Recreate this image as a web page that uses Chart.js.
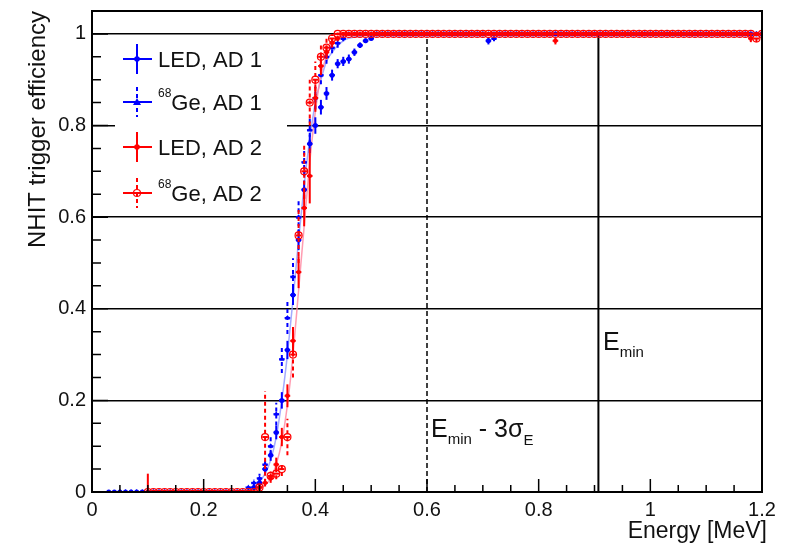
<!DOCTYPE html>
<html>
<head>
<meta charset="utf-8">
<script src="https://cdn.jsdelivr.net/npm/chart.js@4.4.1/dist/chart.umd.min.js"></script>
<style>
  body { margin: 0; background: #fff; }
  canvas { display: block; }
</style>
</head>
<body>
<canvas id="eff" width="785" height="547"></canvas>
<script>
// bin centres [MeV]
const energy = [
  0.03,0.04,0.05,0.06,0.07,0.08,0.09,0.10,0.11,0.12,
  0.13,0.14,0.15,0.16,0.17,0.18,0.19,0.20,0.21,0.22,
  0.23,0.24,0.25,0.26,0.27,0.28,0.29,0.30,0.31,0.32,
  0.33,0.34,0.35,0.36,0.37,0.38,0.39,0.40,0.41,0.42,
  0.43,0.44,0.45,0.46,0.47,0.48,0.49,0.50,0.51,0.52,
  0.53,0.54,0.55,0.56,0.57,0.58,0.59,0.60,0.61,0.62,
  0.63,0.64,0.65,0.66,0.67,0.68,0.69,0.70,0.71,0.72,
  0.73,0.74,0.75,0.76,0.77,0.78,0.79,0.80,0.81,0.82,
  0.83,0.84,0.85,0.86,0.87,0.88,0.89,0.90,0.91,0.92,
  0.93,0.94,0.95,0.96,0.97,0.98,0.99,1.00,1.01,1.02,
  1.03,1.04,1.05,1.06,1.07,1.08,1.09,1.10,1.11,1.12,
  1.13,1.14,1.15,1.16,1.17,1.18,1.19,1.20
];

// LED, AD 1
const ledAd1 = [
  0,0,0,0,0,0,0,0,0,0,
  0,0,0,0,0,0,0,0,0,0,
  0,0,0,0,0,0,0.01,0.02,0.05,0.08,
  0.13,0.20,0.31,0.43,0.55,0.66,0.76,0.80,0.84,0.87,
  0.91,0.935,0.94,0.945,0.96,0.975,0.985,0.99,1,1,
  1,1,1,1,1,1,1,1,1,1,
  1,1,1,1,1,1,1,1,0.985,1,
  1,1,1,1,1,1,1,1,1,1,
  1,1,1,1,1,1,1,1,1,1,
  1,1,1,1,1,1,1,1,1,1,
  1,1,1,1,1,1,1,1,1,1,
  1,1,1,1,1,1,1,1
];
const ledAd1Err = [
  0.004,0.004,0.004,0.004,0.004,0.004,0.004,0.004,0.004,0.004,
  0.004,0.004,0.004,0.004,0.004,0.004,0.004,0.004,0.004,0.004,
  0.004,0.004,0.004,0.004,0.004,0.004,0.006,0.008,0.010,0.012,
  0.015,0.018,0.020,0.022,0.022,0.020,0.020,0.018,0.016,0.014,
  0.012,0.010,0.010,0.010,0.008,0.006,0.005,0.004,0.003,0.003,
  0.003,0.003,0.003,0.003,0.003,0.003,0.003,0.003,0.003,0.003,
  0.003,0.003,0.003,0.003,0.003,0.003,0.003,0.003,0.008,0.003,
  0.003,0.003,0.003,0.003,0.003,0.003,0.003,0.003,0.003,0.003,
  0.003,0.003,0.003,0.003,0.003,0.003,0.003,0.003,0.003,0.003,
  0.003,0.003,0.003,0.003,0.003,0.003,0.003,0.003,0.003,0.003,
  0.003,0.003,0.003,0.003,0.003,0.003,0.003,0.003,0.003,0.003,
  0.003,0.003,0.003,0.003,0.003,0.003,0.003,0.003
];

// 68Ge, AD 1
const geAd1 = [
  null,null,0,0,0,0,0,0,0,0,
  0,0,0,0,0,0,0,0,0,0,
  0,0,0,0,0,0.01,0.02,0.03,0.06,0.10,
  0.17,0.29,0.38,0.47,0.60,0.72,0.79,0.86,0.91,0.95,
  0.97,0.98,0.99,1,1,1,1,1,1,1,
  1,1,1,1,1,1,1,1,1,1,
  1,1,1,1,1,1,1,1,1,0.99,
  1,1,1,1,1,1,1,1,1,1,
  1,1,1,1,1,1,1,1,1,1,
  1,1,1,1,1,1,1,1,1,1,
  1,1,1,1,1,1,1,1,1,1,
  1,1,1,1,1,1,1,1
];
const geAd1Err = [
  null,null,0.004,0.004,0.004,0.004,0.004,0.004,0.004,0.004,
  0.004,0.004,0.004,0.004,0.004,0.004,0.004,0.004,0.004,0.004,
  0.004,0.004,0.004,0.004,0.004,0.006,0.008,0.010,0.015,0.020,
  0.025,0.030,0.035,0.040,0.035,0.030,0.030,0.025,0.020,0.015,
  0.012,0.010,0.006,0.004,0.003,0.003,0.003,0.003,0.003,0.003,
  0.003,0.003,0.003,0.003,0.003,0.003,0.003,0.003,0.003,0.003,
  0.003,0.003,0.003,0.003,0.003,0.003,0.003,0.003,0.003,0.006,
  0.003,0.003,0.003,0.003,0.003,0.003,0.003,0.003,0.003,0.003,
  0.003,0.003,0.003,0.003,0.003,0.003,0.003,0.003,0.003,0.003,
  0.003,0.003,0.003,0.003,0.003,0.003,0.003,0.003,0.003,0.003,
  0.003,0.003,0.003,0.003,0.003,0.003,0.003,0.003,0.003,0.003,
  0.003,0.003,0.003,0.003,0.003,0.003,0.003,0.003
];

// LED, AD 2
const ledAd2 = [
  null,null,null,null,null,null,null,0,0,0,
  0,0,0,0,0,0,0,0,0,0,
  0,0,0,0,0,0,0,0.01,0.02,0.03,
  0.06,0.12,0.21,0.33,0.48,0.62,0.69,0.86,0.93,0.96,
  0.98,0.99,1,1,1,1,1,1,1,1,
  1,1,1,1,1,1,1,1,1,1,
  1,1,1,1,1,1,1,1,1,1,
  1,1,1,1,1,1,1,1,1,1,
  0.985,1,1,1,1,1,1,1,1,1,
  1,1,1,1,1,1,1,1,1,1,
  1,1,1,1,1,1,1,1,1,1,
  1,1,1,1,1,0.99,1,1
];
const ledAd2Err = [
  null,null,null,null,null,null,null,0.040,0.004,0.004,
  0.004,0.004,0.004,0.004,0.004,0.004,0.004,0.004,0.004,0.004,
  0.004,0.004,0.004,0.004,0.004,0.004,0.004,0.006,0.008,0.010,
  0.015,0.020,0.025,0.030,0.035,0.040,0.060,0.030,0.020,0.015,
  0.010,0.006,0.003,0.003,0.003,0.003,0.003,0.003,0.003,0.003,
  0.003,0.003,0.003,0.003,0.003,0.003,0.003,0.003,0.003,0.003,
  0.003,0.003,0.003,0.003,0.003,0.003,0.003,0.003,0.003,0.003,
  0.003,0.003,0.003,0.003,0.003,0.003,0.003,0.003,0.003,0.003,
  0.008,0.003,0.003,0.003,0.003,0.003,0.003,0.003,0.003,0.003,
  0.003,0.003,0.003,0.003,0.003,0.003,0.003,0.003,0.003,0.003,
  0.003,0.003,0.003,0.003,0.003,0.003,0.003,0.003,0.003,0.003,
  0.003,0.003,0.003,0.003,0.003,0.008,0.003,0.003
];

// 68Ge, AD 2
const geAd2 = [
  null,null,null,null,null,null,null,0,0,0,
  0,0,0,0,0,0,0,0,0,0,
  0,0,0,0,0,0,0,0.01,0.12,0.035,
  0.04,0.05,0.12,0.30,0.56,0.70,0.85,0.90,0.95,0.97,
  0.99,1,1,1,1,1,1,1,1,1,
  1,1,1,1,1,1,1,1,1,1,
  1,1,1,1,1,1,1,1,1,1,
  1,1,1,1,1,1,1,1,1,1,
  1,1,1,1,1,1,1,1,1,1,
  1,1,1,1,1,1,1,1,1,1,
  1,1,1,1,1,1,1,1,1,1,
  1,1,1,1,1,1,0.99,1
];
const geAd2Err = [
  null,null,null,null,null,null,null,0.004,0.004,0.004,
  0.004,0.004,0.004,0.004,0.004,0.004,0.004,0.004,0.004,0.004,
  0.004,0.004,0.004,0.004,0.004,0.004,0.004,0.006,0.100,0.010,
  0.012,0.015,0.040,0.050,0.060,0.060,0.050,0.040,0.030,0.020,
  0.010,0.003,0.003,0.003,0.003,0.003,0.003,0.003,0.003,0.003,
  0.003,0.003,0.003,0.003,0.003,0.003,0.003,0.003,0.003,0.003,
  0.003,0.003,0.003,0.003,0.003,0.003,0.003,0.003,0.003,0.003,
  0.003,0.003,0.003,0.003,0.003,0.003,0.003,0.003,0.003,0.003,
  0.003,0.003,0.003,0.003,0.003,0.003,0.003,0.003,0.003,0.003,
  0.003,0.003,0.003,0.003,0.003,0.003,0.003,0.003,0.003,0.003,
  0.003,0.003,0.003,0.003,0.003,0.003,0.003,0.003,0.003,0.003,
  0.003,0.003,0.003,0.003,0.003,0.003,0.008,0.003
];

// turn-on fit curves
const fitEnergy = [0, 0.27, 0.29, 0.31, 0.32, 0.33, 0.34, 0.35, 0.36, 0.37, 0.38, 0.39, 0.40, 0.41, 0.42, 0.43, 0.45, 0.48, 0.52, 1.2];
const fitAd1 = [0, 0, 0.01, 0.04, 0.07, 0.12, 0.20, 0.30, 0.42, 0.55, 0.67, 0.77, 0.85, 0.90, 0.94, 0.96, 0.985, 0.995, 1, 1];
const fitAd2 = [0, 0, 0.003, 0.015, 0.03, 0.06, 0.11, 0.19, 0.30, 0.44, 0.58, 0.72, 0.83, 0.91, 0.95, 0.98, 0.995, 1, 1, 1];

const xTicks = [0, 0.2, 0.4, 0.6, 0.8, 1, 1.2];
const yTicks = [0, 0.2, 0.4, 0.6, 0.8, 1];
const eMinus3Sigma = 0.6;
const eMin = 0.907;
const binHalf = 0.005;

const FONT = '"Liberation Sans", Arial, Helvetica, sans-serif';
const BLUE = '#0000ff';
const RED = '#ff0000';

function points(vals, errs) {
  const out = [];
  vals.forEach((v, i) => {
    if (v !== null) out.push({ x: energy[i], y: v, e: errs[i] });
  });
  return out;
}

function curve(ys) {
  return fitEnergy.map((x, i) => ({ x: x, y: ys[i] }));
}

// vertical stat errors + horizontal bin width, drawn under the markers
const errorBars = {
  id: 'errorBars',
  beforeDatasetDraw(chart, args) {
    const ds = chart.data.datasets[args.index];
    if (!ds.errBars) return;
    const { ctx, chartArea: a, scales: { x, y } } = chart;
    ctx.save();
    ctx.beginPath();
    ctx.rect(a.left, a.top, a.right - a.left, a.bottom - a.top);
    ctx.clip();
    ctx.strokeStyle = ds.borderColor;
    ctx.lineWidth = 2;
    ds.data.forEach(p => {
      const px = x.getPixelForValue(p.x);
      const py = y.getPixelForValue(p.y);
      ctx.setLineDash([]);
      ctx.beginPath();
      ctx.moveTo(x.getPixelForValue(p.x - binHalf), py);
      ctx.lineTo(x.getPixelForValue(p.x + binHalf), py);
      ctx.stroke();
      ctx.setLineDash(ds.errDash || []);
      ctx.beginPath();
      ctx.moveTo(px, y.getPixelForValue(p.y - p.e));
      ctx.lineTo(px, y.getPixelForValue(p.y + p.e));
      ctx.stroke();
    });
    ctx.restore();
  }
};

function drawRuns(ctx, x, runs) {
  // runs: [text, size, baseline]
  runs.forEach(r => {
    ctx.font = r[1] + 'px ' + FONT;
    ctx.fillText(r[0], x, r[2]);
    x += ctx.measureText(r[0]).width;
  });
}

const frame = {
  id: 'frame',
  beforeDatasetsDraw(chart) {
    const { ctx, scales: { x, y } } = chart;
    ctx.save();
    // legend box hides the grid behind it
    ctx.fillStyle = '#fff';
    ctx.fillRect(115, 37, 172, 176);

    // E_min - 3 sigma (dashed) and E_min (solid)
    ctx.strokeStyle = '#000';
    ctx.lineWidth = 1.5;
    ctx.setLineDash([5, 3]);
    ctx.beginPath();
    ctx.moveTo(x.getPixelForValue(eMinus3Sigma), y.getPixelForValue(0));
    ctx.lineTo(x.getPixelForValue(eMinus3Sigma), y.getPixelForValue(1));
    ctx.stroke();
    ctx.setLineDash([]);
    ctx.lineWidth = 2;
    ctx.beginPath();
    ctx.moveTo(x.getPixelForValue(eMin), y.getPixelForValue(0));
    ctx.lineTo(x.getPixelForValue(eMin), y.getPixelForValue(1));
    ctx.stroke();
    ctx.restore();
  },
  afterDraw(chart) {
    const { ctx, chartArea: a, scales: { x, y } } = chart;
    ctx.save();
    ctx.strokeStyle = '#000';
    ctx.lineWidth = 2;
    ctx.strokeRect(a.left, a.top, a.right - a.left, a.bottom - a.top);

    // inward ticks, minor every 0.05
    ctx.lineWidth = 1.5;
    ctx.beginPath();
    for (let k = 0; k <= 24; k++) {
      const px = x.getPixelForValue(k * 0.05);
      ctx.moveTo(px, a.bottom);
      ctx.lineTo(px, a.bottom - (k % 4 === 0 ? 13 : 7));
    }
    for (let k = 0; k <= 21; k++) {
      const py = y.getPixelForValue(k * 0.05);
      ctx.moveTo(a.left, py);
      ctx.lineTo(a.left + (k % 4 === 0 ? 16 : 9), py);
    }
    ctx.stroke();

    // axis titles
    ctx.fillStyle = '#111';
    ctx.font = '23px ' + FONT;
    ctx.textAlign = 'right';
    ctx.textBaseline = 'alphabetic';
    ctx.fillText('Energy [MeV]', 767, 538);
    ctx.save();
    ctx.translate(45, 11);
    ctx.rotate(-Math.PI / 2);
    ctx.font = '24px ' + FONT;
    ctx.fillText('NHIT trigger efficiency', 0, 0);
    ctx.restore();

    // legend
    ctx.textAlign = 'left';
    const rows = [
      { c: BLUE, dash: [], y: 59, m: 'circle', t: 'LED, AD 1' },
      { c: BLUE, dash: [4, 3], y: 102, m: 'triangle', t: 'Ge, AD 1', sup: true },
      { c: RED, dash: [], y: 147, m: 'circle', t: 'LED, AD 2' },
      { c: RED, dash: [4, 3], y: 193, m: 'ring', t: 'Ge, AD 2', sup: true }
    ];
    rows.forEach(r => {
      ctx.strokeStyle = r.c;
      ctx.fillStyle = r.c;
      ctx.lineWidth = 2;
      ctx.setLineDash([]);
      ctx.beginPath();
      ctx.moveTo(123, r.y);
      ctx.lineTo(152, r.y);
      ctx.stroke();
      ctx.setLineDash(r.dash);
      ctx.beginPath();
      ctx.moveTo(137, r.y - 15);
      ctx.lineTo(137, r.y + 15);
      ctx.stroke();
      ctx.setLineDash([]);
      ctx.beginPath();
      if (r.m === 'triangle') {
        ctx.moveTo(137, r.y - 4);
        ctx.lineTo(141, r.y + 3);
        ctx.lineTo(133, r.y + 3);
        ctx.closePath();
        ctx.fill();
      } else if (r.m === 'ring') {
        ctx.lineWidth = 1.2;
        ctx.arc(137, r.y, 3.5, 0, Math.PI * 2);
        ctx.stroke();
      } else {
        ctx.arc(137, r.y, 2.8, 0, Math.PI * 2);
        ctx.fill();
      }
      ctx.fillStyle = '#111';
      ctx.textBaseline = 'alphabetic';
      if (r.sup) {
        drawRuns(ctx, 158, [['68', 12, r.y - 5], [r.t, 22, r.y + 8]]);
      } else {
        drawRuns(ctx, 158, [[r.t, 22, r.y + 8]]);
      }
    });

    // threshold labels
    ctx.fillStyle = '#111';
    drawRuns(ctx, 603, [['E', 25, 350], ['min', 15, 357]]);
    drawRuns(ctx, 431, [['E', 25, 437], ['min', 15, 444], [' - 3', 25, 437], ['σ', 25, 437], ['E', 15, 445]]);
    ctx.restore();
  }
};

new Chart(document.getElementById('eff'), {
  type: 'scatter',
  data: {
    datasets: [
      {
        label: 'Ge, AD 2', data: points(geAd2, geAd2Err), order: 0,
        borderColor: RED, backgroundColor: 'rgba(0,0,0,0)', pointStyle: 'circle',
        pointRadius: 3.5, pointBorderWidth: 1.2, errBars: true, errDash: [4, 3]
      },
      {
        label: 'LED, AD 2', data: points(ledAd2, ledAd2Err), order: 1,
        borderColor: RED, backgroundColor: RED, pointStyle: 'circle',
        pointRadius: 2.2, pointBorderWidth: 0, errBars: true
      },
      {
        label: 'Ge, AD 1', data: points(geAd1, geAd1Err), order: 2,
        borderColor: BLUE, backgroundColor: BLUE, pointStyle: 'triangle',
        pointRadius: 3, pointBorderWidth: 0, errBars: true, errDash: [4, 3]
      },
      {
        label: 'LED, AD 1', data: points(ledAd1, ledAd1Err), order: 3,
        borderColor: BLUE, backgroundColor: BLUE, pointStyle: 'circle',
        pointRadius: 2.5, pointBorderWidth: 0, errBars: true
      },
      {
        label: 'fit AD 2', type: 'line', data: curve(fitAd2), order: 4,
        borderColor: 'rgba(255,140,165,0.85)', borderWidth: 1.5, pointRadius: 0,
        cubicInterpolationMode: 'monotone', fill: false
      },
      {
        label: 'fit AD 1', type: 'line', data: curve(fitAd1), order: 5,
        borderColor: 'rgba(140,150,255,0.8)', borderWidth: 1.5, pointRadius: 0,
        cubicInterpolationMode: 'monotone', fill: false
      }
    ]
  },
  options: {
    responsive: false,
    animation: false,
    layout: { padding: { top: 11, right: 23, left: 0, bottom: 0 } },
    plugins: { legend: { display: false }, tooltip: { enabled: false } },
    scales: {
      x: {
        type: 'linear', min: 0, max: 1.2,
        afterBuildTicks: s => { s.ticks = xTicks.map(v => ({ value: v })); },
        afterFit: s => { s.height = 55; s.paddingLeft = 0; s.paddingRight = 0; },
        grid: { display: false, drawTicks: false },
        border: { display: false },
        ticks: {
          font: { family: FONT, size: 20 }, color: '#111', padding: 6,
          maxRotation: 0, autoSkip: false, callback: v => String(v)
        }
      },
      y: {
        type: 'linear', min: 0, max: 1.05,
        afterBuildTicks: s => { s.ticks = yTicks.map(v => ({ value: v })); },
        afterFit: s => { s.width = 92; s.paddingTop = 0; s.paddingBottom = 0; },
        grid: { color: '#000', lineWidth: 1.5, drawTicks: false },
        border: { display: false },
        ticks: {
          font: { family: FONT, size: 20 }, color: '#111', padding: 6,
          autoSkip: false, callback: v => String(v)
        }
      }
    }
  },
  plugins: [errorBars, frame]
});
</script>
</body>
</html>
